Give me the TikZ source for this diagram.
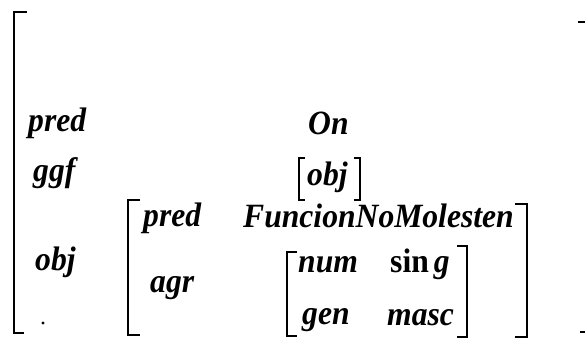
\documentclass[tikz,border=0pt]{standalone}
\usepackage{fontspec}
\newfontfamily\avmfont[FakeStretch=0.93]{Liberation Serif}
\begin{document}
\begin{tikzpicture}[x=1pt,y=-1pt,
    lbl/.style={anchor=base west,inner sep=0pt,font=\avmfont\fontsize{34}{34}\selectfont\bfseries\itshape},
    brk/.style={line width=2.6pt,line join=miter}]
  \useasboundingbox (0,0) rectangle (585,341);
  % outer matrix
  \draw[brk] (27,12) -| (14,333) -- (24,333);
  \draw[brk] (578,22) -| (586,332) -- (580,332);
  \node[lbl] (pred) at (28,131) {pred};
  \node[lbl] (ggf) at (33,181) {ggf};
  \node[lbl] (obj) at (35,270) {obj};
  \node[circle,fill,inner sep=1.1pt] (dot) at (43,323) {};
  \node[lbl] (on) at (308,134) {On};
  % [obj]
  \draw[brk] (305,158) -| (299,200) -- (305,200);
  \draw[brk] (354,158) -| (360,200) -- (354,200);
  \node[lbl] (ggfval) at (307,185) {obj};
  % value of obj
  \draw[brk] (140,200) -| (128,335) -- (140,335);
  \draw[brk] (515,204) -| (527,337) -- (515,337);
  \node[lbl] (predin) at (143,226) {pred};
  \node[lbl] (fn) at (243,227) {FuncionNoMolesten};
  \node[lbl] (agr) at (150,292) {agr};
  % value of agr
  \draw[brk] (297,252) -| (287,336) -- (297,336);
  \draw[brk] (457,246) -| (467,337) -- (457,337);
  \node[lbl] (num) at (298,272) {num};
  \node[lbl] (sing) at (390,272) {{\upshape sin}\kern5pt g};
  \node[lbl] (gen) at (302,324) {gen};
  \node[lbl] (masc) at (387,325) {masc};
\end{tikzpicture}
\end{document}
